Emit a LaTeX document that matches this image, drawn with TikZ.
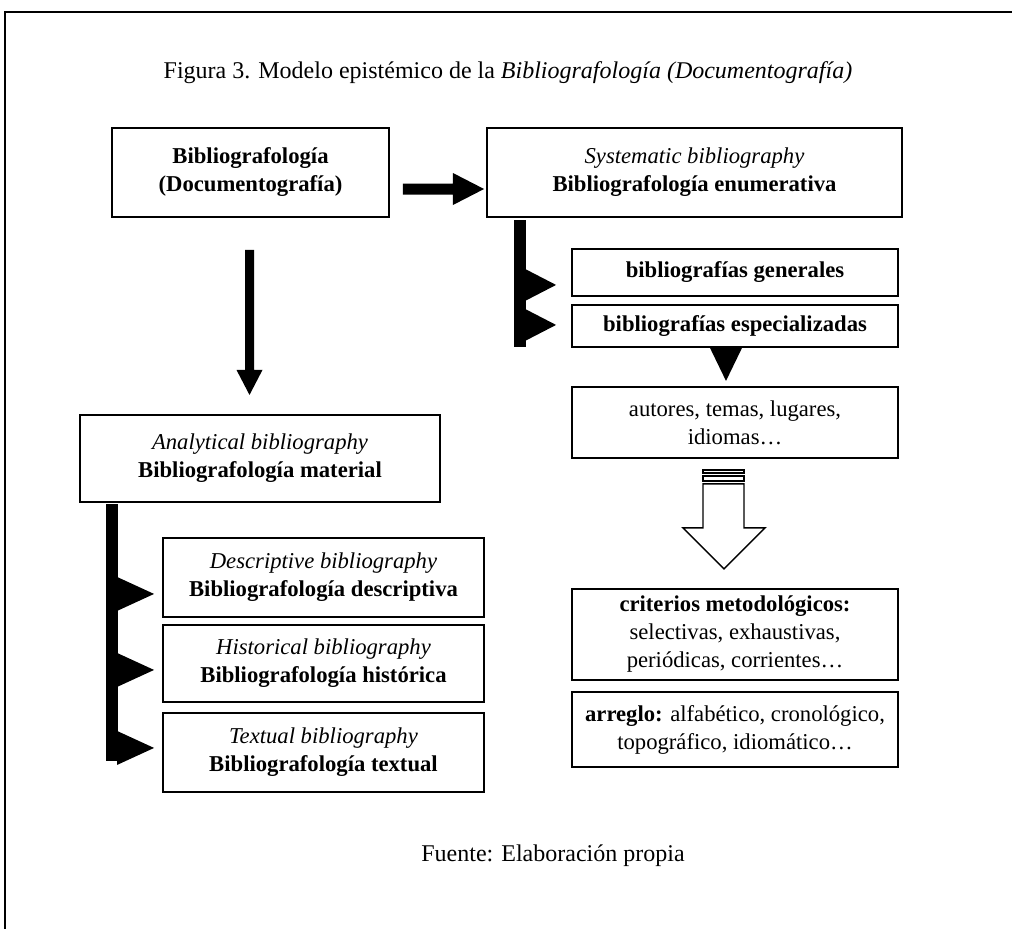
\documentclass[tikz,border=0pt]{standalone}
\usepackage{fontspec}
\setmainfont{Liberation Serif}
\usetikzlibrary{calc}
\begin{document}
\begin{tikzpicture}[x=0.75pt,y=-0.75pt,
  box/.style={draw, line width=1.4pt, align=center, inner sep=0pt, font=\fontsize{17}{21}\selectfont},
  blk/.style={fill=black},
  hollow/.style={draw, line width=1.1pt, fill=white, line join=miter}]
\useasboundingbox (0,0) rectangle (1012,928);
% frame (cut at right and bottom)
\draw[line width=1.5pt] (5,940) -- (5,12) -- (1020,12);
% title
\node[font=\fontsize{18}{22}\selectfont] (title) at (508,73) {Figura 3. Modelo epistémico de la \textit{Bibliografología (Documentografía)}};
% boxes
\node[box, minimum width=207.75pt, minimum height=66.75pt] (b1) at (250.5,172.5) {\textbf{Bibliografología}\\\textbf{(Documentografía)}};
\node[box, minimum width=311.25pt, minimum height=66.75pt] (b2) at (694.5,172.5) {\textit{Systematic bibliography}\\\textbf{Bibliografología enumerativa}};
\node[box, minimum width=244.5pt, minimum height=35.25pt] (gen) at (735,272.5) {\textbf{bibliografías generales}};
\node[box, minimum width=244.5pt, minimum height=31.5pt] (esp) at (735,326) {\textbf{bibliografías especializadas}};
\node[box, minimum width=244.5pt, minimum height=53.25pt] (aut) at (735,422.5) {autores, temas, lugares,\\idiomas…};
\node[box, minimum width=244.5pt, minimum height=68.25pt] (cri) at (735,634.5) {\textbf{criterios metodológicos:}\\selectivas, exhaustivas,\\periódicas, corrientes…};
\node[box, minimum width=244.5pt, minimum height=56.25pt] (arr) at (735,729.5) {\textbf{arreglo:} alfabético, cronológico,\\topográfico, idiomático…};
\node[box, minimum width=270pt, minimum height=65.25pt] (ana) at (260,458.5) {\textit{Analytical bibliography}\\\textbf{Bibliografología material}};
\node[box, minimum width=240.75pt, minimum height=59.25pt] (des) at (323.5,577.5) {\textit{Descriptive bibliography}\\\textbf{Bibliografología descriptiva}};
\node[box, minimum width=240.75pt, minimum height=57.75pt] (his) at (323.5,663.5) {\textit{Historical bibliography}\\\textbf{Bibliografología histórica}};
\node[box, minimum width=240.75pt, minimum height=59.25pt] (tex) at (323.5,752.5) {\textit{Textual bibliography}\\\textbf{Bibliografología textual}};
% footer
\node[font=\fontsize{18}{22}\selectfont] (src) at (553,856) {Fuente: Elaboración propia};
% block arrow b1 -> b2
\fill[blk] ($(b1.east)+(13,11)$) -- ++(50,0) -- ++(0,-10.5) -- ($(b2.west)+(-2,16.5)$) -- ($(b1.east)+(63,32.5)$) -- ++(0,-10.5) -- ($(b1.east)+(13,22)$) -- cycle;
% down arrow b1 -> ana
\begin{scope}[shift={(b1.south)}]
\fill[blk] (-5.5,32) -- (3.5,32) -- (3.5,152) -- (12,152) -- (-1,177) -- (-14,152) -- (-5.5,152) -- cycle;
\end{scope}
% systematic bar with heads to gen and esp
\begin{scope}[shift={(b2.south west)}]
\fill[blk] (28,2) rectangle (40,129);
\fill[blk] (39,51) -- (70,67) -- (39,83) -- cycle;
\fill[blk] (39,91) -- (70,107) -- (39,123) -- cycle;
\end{scope}
% analytical bar with heads
\begin{scope}[shift={(ana.south west)}]
\fill[blk] (27,1) rectangle (39,258);
\fill[blk] (38,74) -- (75,91) -- (38,108) -- cycle;
\fill[blk] (38,150) -- (75,167) -- (38,184) -- cycle;
\fill[blk] (38,228) -- (75,245) -- (38,262) -- cycle;
\end{scope}
% triangle esp -> aut
\begin{scope}[shift={(esp.south)}]
\fill[blk] (-25,0) -- (7,0) -- (-9,33) -- cycle;
\end{scope}
% hollow striped arrow aut -> cri
\begin{scope}[shift={(aut.south)}]
\draw[hollow] (-32,11) rectangle (9,14);
\draw[hollow] (-32,17) rectangle (9,22);
\draw[hollow] (-32,25) -- (9,25) -- (9,69) -- (30,69) -- (-11,110) -- (-52,69) -- (-32,69) -- cycle;
\end{scope}
\end{tikzpicture}
\end{document}
